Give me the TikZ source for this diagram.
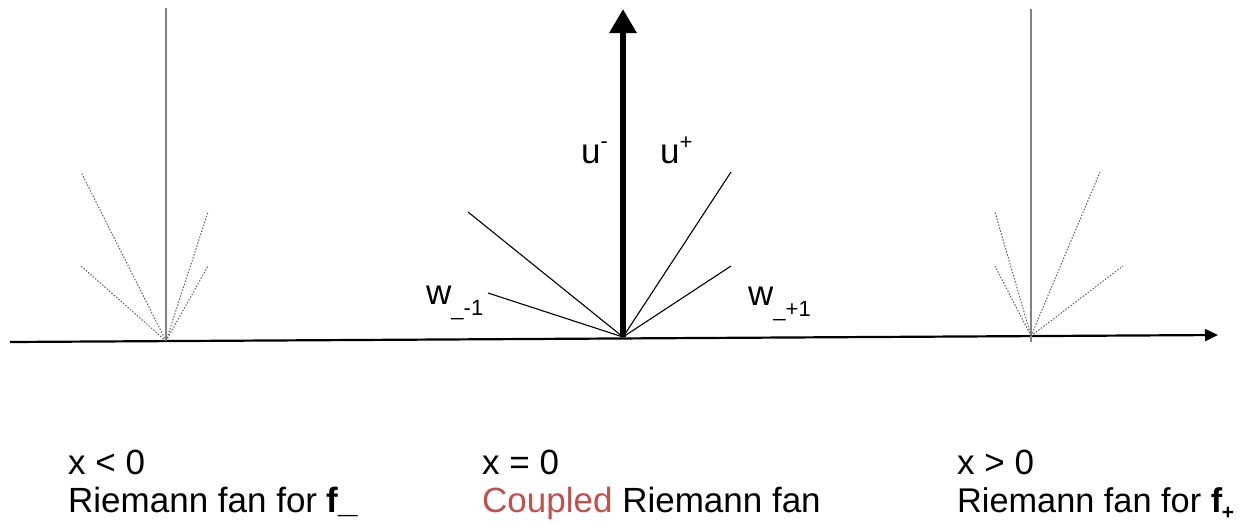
\documentclass[tikz,border=0pt]{standalone}
\usepackage{fontspec}
\setmainfont{Liberation Sans}
\usetikzlibrary{arrows.meta}
\definecolor{coupred}{RGB}{192,80,77}
\definecolor{fangray}{RGB}{130,130,130}
\definecolor{dotgray}{RGB}{95,95,95}
\begin{document}
\begin{tikzpicture}[x=1pt,y=-1pt,
  axisline/.style={line width=2.2pt,-{Triangle[length=13pt,width=12pt]}},
  timeline/.style={line width=6pt,-{Triangle[length=24pt,width=26pt]}},
  wave/.style={line width=1.1pt},
  sidevert/.style={line width=1.3pt,color=fangray},
  dotwave/.style={line width=1pt,color=dotgray,dash pattern=on 1.5pt off 1.6pt},
  lbl/.style={inner sep=0pt,font=\fontsize{35}{40}\selectfont}]
\useasboundingbox (0,0) rectangle (1240,523);
% axis
\coordinate (axL) at (10,342);
\coordinate (axR) at (1218,335);
\draw[axisline] (axL) -- (axR);
% left fan
\coordinate (oL) at (166,341);
\coordinate (tL) at (166,8);
\coordinate (l1) at (81,172);
\coordinate (l2) at (81,266);
\coordinate (l3) at (208,212);
\coordinate (l4) at (208,266);
\draw[sidevert] (oL) -- (tL);
\foreach \p in {l1,l2,l3,l4} \draw[dotwave] (oL) -- (\p);
% right fan
\coordinate (oR) at (1031,336);
\coordinate (tR) at (1031,9);
\coordinate (bR) at (1031,342);
\coordinate (r1) at (995,212);
\coordinate (r2) at (995,266);
\coordinate (r3) at (1100,172);
\coordinate (r4) at (1123,266);
\draw[sidevert] (bR) -- (tR);
\foreach \p in {r1,r2,r3,r4} \draw[dotwave] (oR) -- (\p);
% center fan
\coordinate (oC) at (623,337);
\coordinate (tC) at (623,9);
\coordinate (c1) at (468,212);
\coordinate (c2) at (488,293);
\coordinate (c3) at (731,172);
\coordinate (c4) at (731,266);
\foreach \p in {c1,c2,c3,c4} \draw[wave] (oC) -- (\p);
\draw[timeline] (oC) -- (tC);
% labels
\node[lbl,anchor=base west] (um) at (581,163) {u\raisebox{0.42em}{\fontsize{22}{22}\selectfont -}};
\node[lbl,anchor=base west] (up) at (660,163) {u\raisebox{0.38em}{\fontsize{22}{22}\selectfont +}};
\node[lbl,anchor=base west] (wm) at (426,304) {w\raisebox{-0.33em}{\fontsize{22}{22}\selectfont \_-1}};
\node[lbl,anchor=base west] (wp) at (748,305) {w\raisebox{-0.33em}{\fontsize{22}{22}\selectfont \_+1}};
% bottom texts
\node[lbl,anchor=base west] (xl) at (68,474) {x < 0};
\node[lbl,anchor=base west] (fl) at (68,512) {Riemann fan for \textbf{f\_}};
\node[lbl,anchor=base west] (xc) at (482,474) {x = 0};
\node[lbl,anchor=base west] (fc) at (482,512) {\textcolor{coupred}{Coupled} Riemann fan};
\node[lbl,anchor=base west] (xr) at (957,474) {x > 0};
\node[lbl,anchor=base west] (fr) at (957,512) {\fontsize{34.3}{40}\selectfont Riemann fan for \textbf{f}\kern-0.5pt\raisebox{-0.22em}{\fontsize{21}{21}\selectfont\bfseries +}};
\end{tikzpicture}
\end{document}
